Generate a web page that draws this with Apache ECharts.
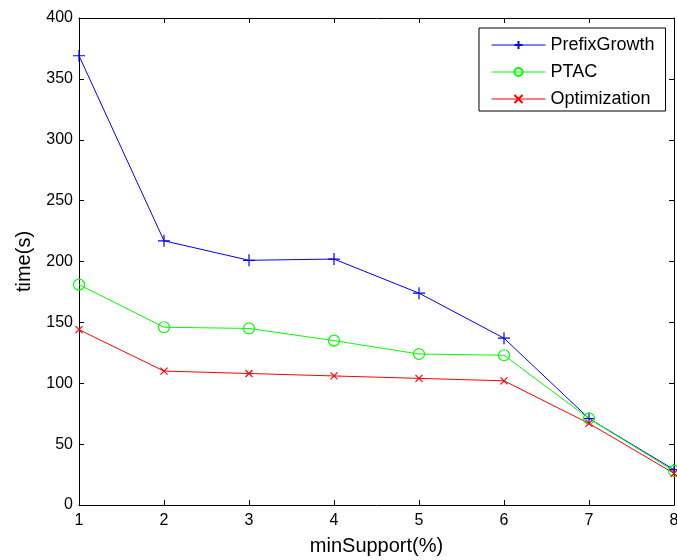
<!DOCTYPE html>
<html>
<head>
<meta charset="utf-8">
<script src="https://cdn.jsdelivr.net/npm/echarts@6/dist/echarts.min.js"></script>
<style>
  html, body { margin: 0; padding: 0; background: #fff; }
  #chart { width: 677px; height: 560px; }
</style>
</head>
<body>
<div id="chart"></div>
<script>
// minimum support (%) on the x axis
const minSupport = [1, 2, 3, 4, 5, 6, 7, 8];
// running times in seconds
const prefixGrowth = [369, 217, 201, 202, 174, 137, 71, 29];
const ptac = [181, 146, 145, 135, 124, 123, 71, 28];
const optimization = [144, 110, 108, 106, 104, 102, 67, 26];

const FONT = "'Liberation Sans', Arial, sans-serif";
const pairs = ys => minSupport.map((x, i) => [x, ys[i]]);

const chart = echarts.init(document.getElementById('chart'), null, { renderer: 'canvas' });

const boxAxis = {
  axisLine: { show: true, onZero: false, lineStyle: { color: '#000', width: 1 } },
  axisTick: { show: true, inside: true, length: 5, lineStyle: { color: '#000' } },
  axisLabel: { show: false },
  splitLine: { show: false }
};

chart.setOption({
  animation: false,
  backgroundColor: '#fff',
  grid: { left: 79, right: 3, top: 18, bottom: 55, containLabel: false, outerBoundsMode: 'none' },
  legend: {
    orient: 'vertical',
    left: 479,
    top: 28,
    padding: [8, 11, 3, 12],
    itemWidth: 54,
    itemHeight: 10,
    itemGap: 9,
    borderColor: '#000',
    borderWidth: 1,
    backgroundColor: '#fff',
    lineStyle: { width: 1 },
    textStyle: { fontFamily: FONT, fontSize: 18, color: '#000', lineHeight: 14 },
    data: ['PrefixGrowth', 'PTAC', 'Optimization']
  },
  xAxis: [
    {
      type: 'value', min: 1, max: 8, interval: 1, position: 'bottom',
      name: 'minSupport(%)', nameLocation: 'middle', nameGap: 31,
      nameTextStyle: { fontFamily: FONT, fontSize: 20, color: '#000' },
      axisLine: { show: true, onZero: false, lineStyle: { color: '#000', width: 1 } },
      axisTick: { show: true, inside: true, length: 5, lineStyle: { color: '#000' } },
      axisLabel: { fontFamily: FONT, fontSize: 16, color: '#000', margin: 8 },
      splitLine: { show: false }
    },
    Object.assign({ type: 'value', min: 1, max: 8, interval: 1, position: 'top' }, boxAxis)
  ],
  yAxis: [
    {
      type: 'value', min: 0, max: 400, interval: 50, position: 'left',
      name: 'time(s)', nameLocation: 'middle', nameGap: 45, nameRotate: 90,
      nameTextStyle: { fontFamily: FONT, fontSize: 20, color: '#000' },
      axisLine: { show: true, onZero: false, lineStyle: { color: '#000', width: 1 } },
      axisTick: { show: true, inside: true, length: 5, lineStyle: { color: '#000' } },
      axisLabel: { fontFamily: FONT, fontSize: 16, color: '#000', margin: 6 },
      splitLine: { show: false }
    },
    Object.assign({ type: 'value', min: 0, max: 400, interval: 50, position: 'right' }, boxAxis)
  ],
  series: [
    {
      name: 'PrefixGrowth', type: 'line', data: pairs(prefixGrowth),
      symbol: 'path://M0,5L10,5M5,0L5,10', symbolSize: 12,
      lineStyle: { color: '#0000ff', width: 1 },
      itemStyle: { color: '#0000ff', borderColor: '#0000ff', borderWidth: 1.2 },
      color: '#0000ff'
    },
    {
      name: 'PTAC', type: 'line', data: pairs(ptac),
      symbol: 'circle', symbolSize: 11,
      lineStyle: { color: '#00ff00', width: 1 },
      itemStyle: { color: 'rgba(0,0,0,0)', borderColor: '#00ff00', borderWidth: 1.2 },
      color: '#00ff00'
    },
    {
      name: 'Optimization', type: 'line', data: pairs(optimization),
      symbol: 'path://M0,0L10,10M10,0L0,10', symbolSize: 7,
      lineStyle: { color: '#ff0000', width: 1 },
      itemStyle: { color: '#ff0000', borderColor: '#ff0000', borderWidth: 1.2 },
      color: '#ff0000'
    }
  ]
});
</script>
</body>
</html>
